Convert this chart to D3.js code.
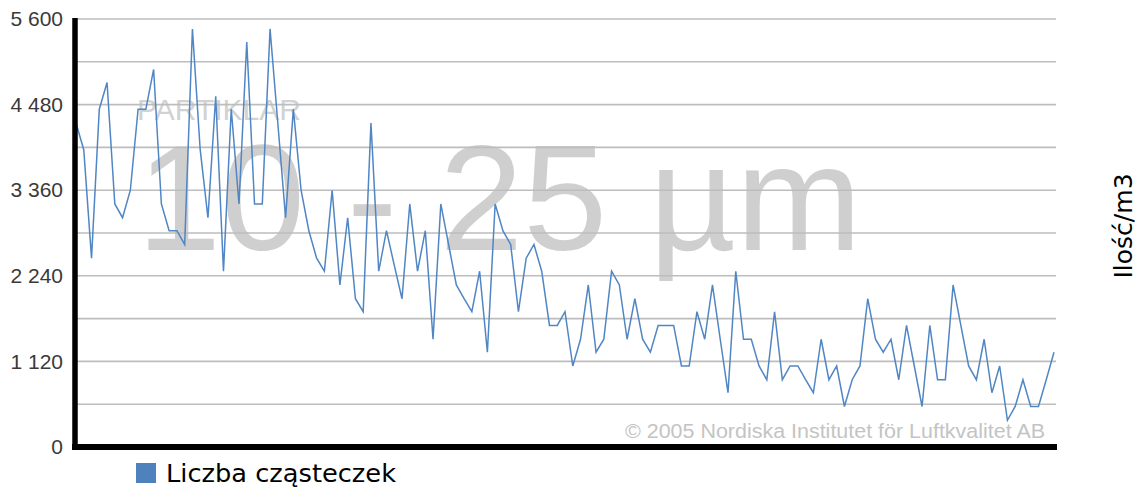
<!DOCTYPE html>
<html>
<head>
<meta charset="utf-8">
<script src="https://cdn.jsdelivr.net/npm/d3@7"></script>
<style>
  body { margin: 0; background: #fff; }
  svg { display: block; }
</style>
</head>
<body>
<svg width="1141" height="490"></svg>
<script>
// particle counts per m3, one value per sample
const counts = [
  4240, 3890, 2470, 4420, 4770, 3180, 3000, 3360, 4420, 4420,
  4940, 3180, 2830, 2830, 2650, 5470, 3890, 3000, 4590, 2300,
  4420, 3180, 5300, 3180, 3180, 5470, 4240, 3000, 4420, 3360,
  2830, 2470, 2300, 3360, 2120, 3000, 1940, 1770, 4240, 2300,
  2830, 2380, 1940, 3180, 2300, 2830, 1410, 3180, 2650, 2120,
  1940, 1770, 2300, 1240, 3180, 2830, 2650, 1770, 2470, 2650,
  2300, 1590, 1590, 1770, 1060, 1410, 2120, 1240, 1410, 2300,
  2120, 1410, 1940, 1410, 1240, 1590, 1590, 1590, 1060, 1060,
  1770, 1410, 2120, 1410, 710, 2300, 1410, 1410, 1060, 880,
  1770, 880, 1060, 1060, 880, 710, 1410, 880, 1060, 530,
  880, 1060, 1940, 1410, 1240, 1410, 880, 1590, 1060, 530,
  1590, 880, 880, 2120, 1590, 1060, 880, 1410, 710, 1060,
  350, 530, 880, 530, 530, 880, 1240
];
const samples = d3.range(counts.length);

// axis ticks
const gridTicks = d3.range(0, 5601, 560);
const labelTicks = [0, 1120, 2240, 3360, 4480, 5600];

const seriesName = 'Liczba cząsteczek';
const unitLabel = 'Ilość/m3';

const svg = d3.select('svg');

const x = d3.scaleLinear()
    .domain([0, samples.length - 1])
    .range([76, 1054]);

const y = d3.scaleLinear()
    .domain([0, 5600])
    .range([447, 19]);

// numbers like "5 600"
const fmt = d3.formatLocale({ decimal: ',', thousands: ' ', grouping: [3], currency: ['', ''] }).format(',d');

// watermark text behind everything
svg.append('text')
    .attr('x', 137)
    .attr('y', 120)
    .attr('font-family', 'Liberation Sans, Arial, sans-serif')
    .attr('font-size', 30)
    .attr('fill', '#d2d2d2')
    .text('PARTIKLAR');

svg.append('text')
    .attr('x', 137)
    .attr('y', 250)
    .attr('font-family', 'Liberation Sans, Arial, sans-serif')
    .attr('font-size', 151)
    .attr('fill', '#cfcfcf')
    .text('10 - 25 µm');

svg.append('text')
    .attr('x', 625)
    .attr('y', 438)
    .attr('font-family', 'Liberation Sans, Arial, sans-serif')
    .attr('font-size', 20)
    .attr('textLength', 420)
    .attr('lengthAdjust', 'spacingAndGlyphs')
    .attr('fill', '#c4c4c4')
    .text('© 2005 Nordiska Institutet för Luftkvalitet AB');

// horizontal grid lines
svg.append('g')
    .selectAll('line')
    .data(gridTicks.filter(d => d > 0))
    .enter()
    .append('line')
    .attr('x1', 76)
    .attr('x2', 1056)
    .attr('y1', d => y(d))
    .attr('y2', d => y(d))
    .attr('stroke', '#bdbdbd')
    .attr('stroke-width', 1.6);

// y axis labels
const yAxis = d3.axisLeft(y)
    .tickValues(labelTicks)
    .tickFormat(fmt)
    .tickSize(0)
    .tickPadding(12);

svg.append('g')
    .attr('transform', 'translate(75,0)')
    .call(yAxis)
    .call(g => g.select('.domain').remove())
    .selectAll('text')
    .attr('font-family', 'Liberation Sans, Arial, sans-serif')
    .attr('font-size', 21)
    .attr('fill', '#3a3a3a');

// the data line
const line = d3.line()
    .x((d, i) => x(i))
    .y(d => y(d));

svg.append('path')
    .datum(counts)
    .attr('d', line)
    .attr('fill', 'none')
    .attr('stroke', '#5086c4')
    .attr('stroke-width', 1.5)
    .attr('stroke-linejoin', 'miter');

// thick black axis lines
svg.append('line')
    .attr('x1', 75).attr('x2', 75)
    .attr('y1', 18).attr('y2', 450)
    .attr('stroke', '#000')
    .attr('stroke-width', 5.5);

svg.append('line')
    .attr('x1', 72).attr('x2', 1057)
    .attr('y1', y(0)).attr('y2', y(0))
    .attr('stroke', '#000')
    .attr('stroke-width', 6);

// legend
svg.append('rect')
    .attr('x', 136)
    .attr('y', 463)
    .attr('width', 20)
    .attr('height', 20)
    .attr('fill', '#4f81bd');

svg.append('text')
    .attr('x', 166)
    .attr('y', 482)
    .attr('font-family', 'DejaVu Sans, sans-serif')
    .attr('font-size', 25)
    .attr('textLength', 230)
    .attr('lengthAdjust', 'spacingAndGlyphs')
    .attr('fill', '#000')
    .text(seriesName);

// unit label on the right
svg.append('text')
    .attr('transform', 'translate(1132,226) rotate(-90)')
    .attr('text-anchor', 'middle')
    .attr('font-family', 'DejaVu Sans, sans-serif')
    .attr('font-size', 25)
    .attr('fill', '#000')
    .text(unitLabel);
</script>
</body>
</html>
